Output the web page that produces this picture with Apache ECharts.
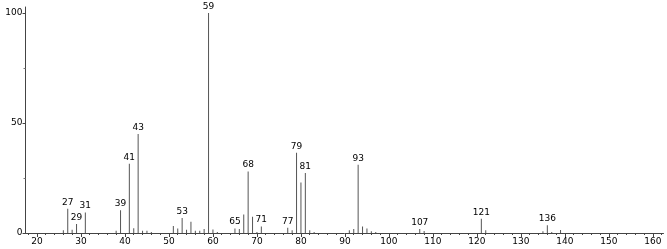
<!DOCTYPE html>
<html>
<head>
<meta charset="utf-8">
<script src="https://cdn.jsdelivr.net/npm/echarts@6/dist/echarts.min.js"></script>
<style>
html,body{margin:0;padding:0;background:#fff;}
#c{width:667px;height:249px;}
</style>
</head>
<body>
<div id="c"></div>
<script>
// m/z values and relative intensities
const mzValues = [26,27,28,29,31,38,39,41,42,43,44,45,46,51,52,53,54,55,56,57,58,59,60,61,65,66,67,68,69,70,71,77,78,79,80,81,82,83,91,92,93,94,95,96,97,107,108,121,122,135,136,137,139];
const intensities = [1.2,11,1.5,4.1,9.3,1,10.3,31.5,2.2,45,1,1,0.5,3.2,2.1,6.8,1.5,5.1,1,1,1.8,100,1.6,0.4,2.1,1.8,8.4,28,7.4,0.5,3,2.4,1.2,36.5,23,27.3,1.3,0.4,1.2,1.8,31,3,2.1,0.8,0.4,1.8,0.9,6.5,1.2,0.8,3.5,0.5,1.4];
const labeledPeaks = [27,29,31,39,41,43,53,59,65,68,71,77,79,81,93,107,121,136];
const xMajorTicks = [20,30,40,50,60,70,80,90,100,110,120,130,140,150,160];
const xMinorTicks = [18,22,24,26,28,32,34,36,38,42,44,46,48,52,54,56,58,62,64,66,68,72,74,76,78,82,84,86,88,92,94,96,98,102,104,106,108,112,114,116,118,122,124,126,128,132,134,136,138,142,144,146,148,152,154,156,158,162];
const yTicks = [0,50,100];
const yMinorTicks = [25,75];

const FONT = 'DejaVu Sans';
const data = mzValues.map((m, i) => {
  const item = { value: [m, intensities[i]] };
  if (labeledPeaks.includes(m)) {
    item.label = { show: true, position: 'top', distance: 2, formatter: String(m),
      color: '#000', fontSize: 9, fontFamily: FONT };
  }
  return item;
});

const chart = echarts.init(document.getElementById('c'), null, { renderer: 'canvas' });
chart.setOption({
  animation: false,
  backgroundColor: '#fff',
  grid: { left: 25.5, top: 7, width: 638, height: 226 },
  xAxis: [{
    type: 'value', min: 17.4, max: 162.4,
    axisLine: { show: true, lineStyle: { color: '#444', width: 1 } },
    axisTick: { show: true, customValues: xMajorTicks, length: 4, lineStyle: { color: '#444' } },
    axisLabel: { customValues: xMajorTicks, color: '#000', fontSize: 9, fontFamily: FONT, margin: 4 },
    splitLine: { show: false }
  }, {
    type: 'value', min: 17.4, max: 162.4, position: 'bottom',
    axisLine: { show: false },
    axisTick: { show: true, customValues: xMinorTicks, length: 2, lineStyle: { color: '#444' } },
    axisLabel: { show: false },
    splitLine: { show: false }
  }],
  yAxis: [{
    type: 'value', min: 0, max: 102.7,
    axisLine: { show: true, lineStyle: { color: '#444', width: 1 } },
    axisTick: { show: true, customValues: yTicks, length: 3, lineStyle: { color: '#444' } },
    axisLabel: { customValues: yTicks, color: '#000', fontSize: 9, fontFamily: FONT, margin: 3 },
    splitLine: { show: false }
  }, {
    type: 'value', min: 0, max: 102.7, position: 'left',
    axisLine: { show: false },
    axisTick: { show: true, customValues: yMinorTicks, length: 2, lineStyle: { color: '#777' } },
    axisLabel: { show: false },
    splitLine: { show: false }
  }],
  series: [{
    type: 'bar',
    xAxisIndex: 0,
    yAxisIndex: 0,
    barWidth: 1,
    itemStyle: { color: '#555' },
    data: data
  }]
});
</script>
</body>
</html>
